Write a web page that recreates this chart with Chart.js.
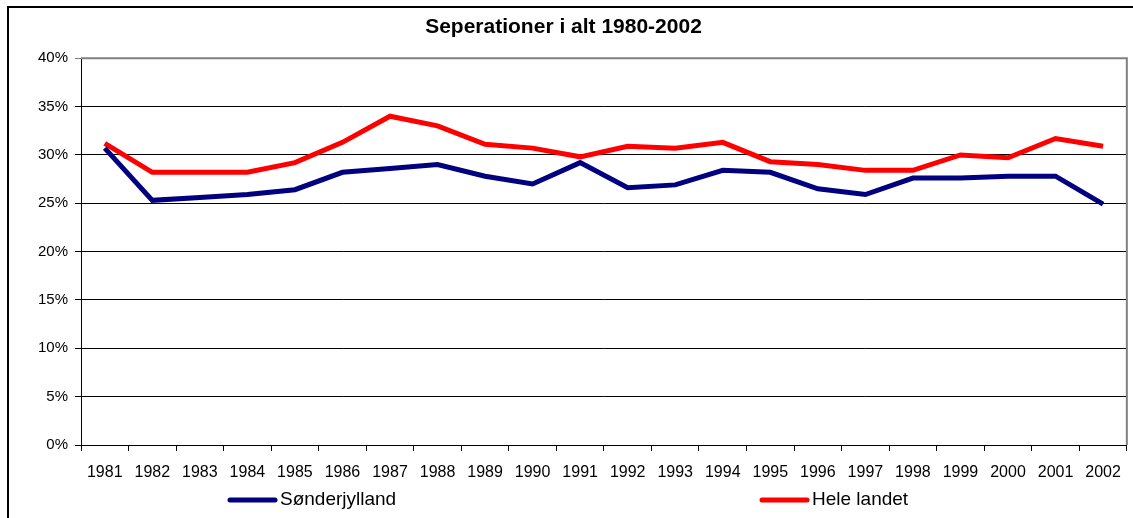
<!DOCTYPE html>
<html>
<head>
<meta charset="utf-8">
<script src="https://cdn.jsdelivr.net/npm/chart.js@4/dist/chart.umd.min.js"></script>
<style>
  html, body { margin: 0; padding: 0; background: #fff; }
  #wrap { width: 1133px; height: 518px; position: relative; }
</style>
</head>
<body>
<div id="wrap"><canvas id="chart" width="1133" height="518"></canvas></div>
<script>
// Data
const years = ['1981', '1982', '1983', '1984', '1985', '1986', '1987', '1988', '1989', '1990', '1991',
               '1992', '1993', '1994', '1995', '1996', '1997', '1998', '1999', '2000', '2001', '2002'];
const soenderjylland = [30.7, 25.3, 25.6, 25.9, 26.4, 28.2, 28.6, 29.0, 27.8, 27.0, 29.2,
                        26.6, 26.9, 28.4, 28.2, 26.5, 25.9, 27.6, 27.6, 27.8, 27.8, 24.9];
const heleLandet = [31.2, 28.2, 28.2, 28.2, 29.2, 31.3, 34.0, 33.0, 31.1, 30.7, 29.8,
                    30.9, 30.7, 31.3, 29.3, 29.0, 28.4, 28.4, 30.0, 29.7, 31.7, 30.9];
const yTicks = [0, 5, 10, 15, 20, 25, 30, 35, 40];

const baseFont = "'Liberation Sans', Arial, sans-serif";

// Outer frame, plot frame (grey top/right) and the two-column legend at the bottom
const framePlugin = {
    id: 'frame',
    beforeDraw(chart) {
        const ctx = chart.ctx;
        ctx.save();
        ctx.strokeStyle = '#000';
        ctx.lineWidth = 2;
        ctx.strokeRect(8, 7, chart.width + 20, chart.height + 20);
        ctx.restore();
    },
    afterDraw(chart) {
        const ctx = chart.ctx;
        const a = chart.chartArea;
        ctx.save();
        ctx.strokeStyle = '#808080';
        ctx.lineWidth = 2;
        ctx.beginPath();
        ctx.moveTo(a.left, a.top);
        ctx.lineTo(a.right, a.top);
        ctx.lineTo(a.right, a.bottom);
        ctx.stroke();

        // legend
        const items = [{ x: 230 }, { x: 762 }];
        ctx.font = '19px ' + baseFont;
        ctx.textBaseline = 'middle';
        ctx.fillStyle = '#000';
        chart.data.datasets.forEach((ds, i) => {
            const x = items[i].x;
            const y = 500;
            ctx.strokeStyle = ds.borderColor;
            ctx.lineWidth = 5;
            ctx.lineCap = 'round';
            ctx.beginPath();
            ctx.moveTo(x, y);
            ctx.lineTo(x + 45, y);
            ctx.stroke();
            ctx.fillText(ds.label, x + 50, y);
        });
        ctx.restore();
    }
};

new Chart(document.getElementById('chart'), {
    type: 'line',
    data: {
        labels: years,
        datasets: [{
            label: 'Sønderjylland',
            data: soenderjylland,
            borderColor: '#000080',
            backgroundColor: '#000080',
            borderWidth: 5,
            pointRadius: 0,
            tension: 0,
            fill: false
        }, {
            label: 'Hele landet',
            data: heleLandet,
            borderColor: '#ff0000',
            backgroundColor: '#ff0000',
            borderWidth: 5,
            pointRadius: 0,
            tension: 0,
            fill: false
        }]
    },
    options: {
        responsive: false,
        animation: false,
        events: [],
        layout: {
            padding: { left: 0, right: 6, top: 0, bottom: 33 }
        },
        plugins: {
            legend: { display: false },
            tooltip: { enabled: false },
            title: {
                display: true,
                text: 'Seperationer i alt 1980-2002',
                color: '#000',
                font: { family: baseFont, size: 21, weight: 'bold' },
                padding: { top: 15, bottom: 18 }
            }
        },
        scales: {
            x: {
                offset: true,
                grid: {
                    offset: true,
                    drawOnChartArea: false,
                    drawTicks: true,
                    tickLength: 6,
                    color: '#000'
                },
                border: { color: '#000', width: 1 },
                ticks: {
                    color: '#000',
                    maxRotation: 0,
                    autoSkip: false,
                    padding: 12,
                    font: { family: "'Liberation Sans Narrow', " + baseFont, size: 16 }
                },
                afterFit(scale) { scale.height = 40; }
            },
            y: {
                min: 0,
                max: 40,
                afterBuildTicks(scale) {
                    scale.ticks = yTicks.map(v => ({ value: v }));
                },
                grid: {
                    color: ctx => (ctx.tick && ctx.tick.value === 40) ? '#808080' : '#000',
                    lineWidth: 1,
                    drawTicks: true,
                    tickLength: 6
                },
                border: { color: '#000', width: 1 },
                ticks: {
                    color: '#000',
                    padding: 7,
                    font: { family: baseFont, size: 15 },
                    callback: v => v + '%'
                },
                afterFit(scale) { scale.width = 81; }
            }
        }
    },
    plugins: [framePlugin]
});
</script>
</body>
</html>
